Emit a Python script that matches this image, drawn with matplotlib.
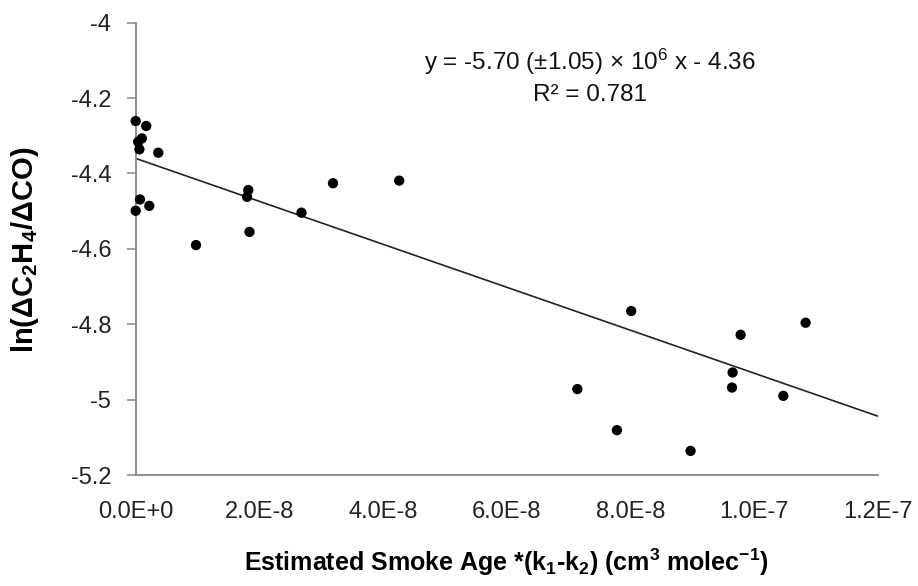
import numpy as np
import matplotlib
matplotlib.use("Agg")
import matplotlib.pyplot as plt

plt.rcParams['font.family'] = ['Liberation Sans', 'DejaVu Sans']
plt.rcParams['mathtext.default'] = 'regular'

# --------------------------
# Data
# --------------------------
smoke_age = np.array([
    0.0e-9, 1.7e-9, 1.0e-9, 0.4e-9, 0.6e-9, 3.65e-9,
    0.7e-9, 2.2e-9, 0.0e-9, 9.75e-9,
    1.82e-8, 1.80e-8, 1.84e-8, 2.68e-8, 3.19e-8, 4.26e-8,
    7.14e-8, 7.78e-8, 8.01e-8, 8.97e-8,
    9.65e-8, 9.64e-8, 9.78e-8, 1.047e-7, 1.083e-7,
])
ln_ratio = np.array([
    -4.261, -4.274, -4.307, -4.316, -4.336, -4.345,
    -4.469, -4.486, -4.499, -4.590,
    -4.444, -4.462, -4.555, -4.504, -4.426, -4.419,
    -4.972, -5.081, -4.765, -5.136,
    -4.928, -4.968, -4.828, -4.990, -4.796,
])

slope = -5.70e6
intercept = -4.36
fit_x = [0.0, 1.2e-7]

x_ticks = [0, 2e-8, 4e-8, 6e-8, 8e-8, 1e-7, 1.2e-7]
x_tick_labels = ["0.0E+0", "2.0E-8", "4.0E-8", "6.0E-8", "8.0E-8", "1.0E-7", "1.2E-7"]
y_ticks = [-4, -4.2, -4.4, -4.6, -4.8, -5, -5.2]
y_tick_labels = ["-4", "-4.2", "-4.4", "-4.6", "-4.8", "-5", "-5.2"]

# --------------------------
# Plot
# --------------------------
fig = plt.figure(figsize=(9.18, 5.86), dpi=100)
ax = fig.add_axes([0.1478, 0.1894, 0.9564 - 0.1478, 0.9613 - 0.1894])

fit_y = [slope * x + intercept for x in fit_x]
ax.plot(fit_x, fit_y, color='#222222', lw=1.2, zorder=2)
ax.scatter(smoke_age, ln_ratio, s=55, color='black', edgecolors='none',
           zorder=3, clip_on=False)

ax.set_xlim(0, 1.2e-7)
ax.set_ylim(-5.2, -4)
ax.set_xticks(x_ticks)
ax.set_xticklabels(x_tick_labels)
ax.set_yticks(y_ticks)
ax.set_yticklabels(y_tick_labels)

for s in ['top', 'right']:
    ax.spines[s].set_visible(False)
for s in ['left', 'bottom']:
    ax.spines[s].set_color('#868686')
    ax.spines[s].set_linewidth(1.3)

ax.tick_params(axis='y', direction='out', length=6.5, width=1.1, color='#868686',
               labelsize=17, labelcolor='#222222', pad=11)
ax.tick_params(axis='x', length=0, labelsize=17, labelcolor='#222222', pad=19)

ax.text(0.612, 0.913, "y = -5.70 (\u00b11.05) \u00d7 10$^6$ x - 4.36",
        transform=ax.transAxes, ha='center', va='center', fontsize=17.5, color='#111111')
ax.text(0.612, 0.840, "R\u00b2 = 0.781",
        transform=ax.transAxes, ha='center', va='center', fontsize=17.5, color='#111111')

fig.text(0.552, 0.041, "Estimated Smoke Age *(k$_1$-k$_2$) (cm$^3$ molec$^{-1}$)",
         ha='center', va='center', fontsize=18, fontweight='bold')
fig.text(0.027, 0.573, "ln(\u0394C$_2$H$_4$/\u0394CO)", rotation=90,
         ha='center', va='center', fontsize=21, fontweight='bold')

fig.savefig("out.png", dpi=100)
